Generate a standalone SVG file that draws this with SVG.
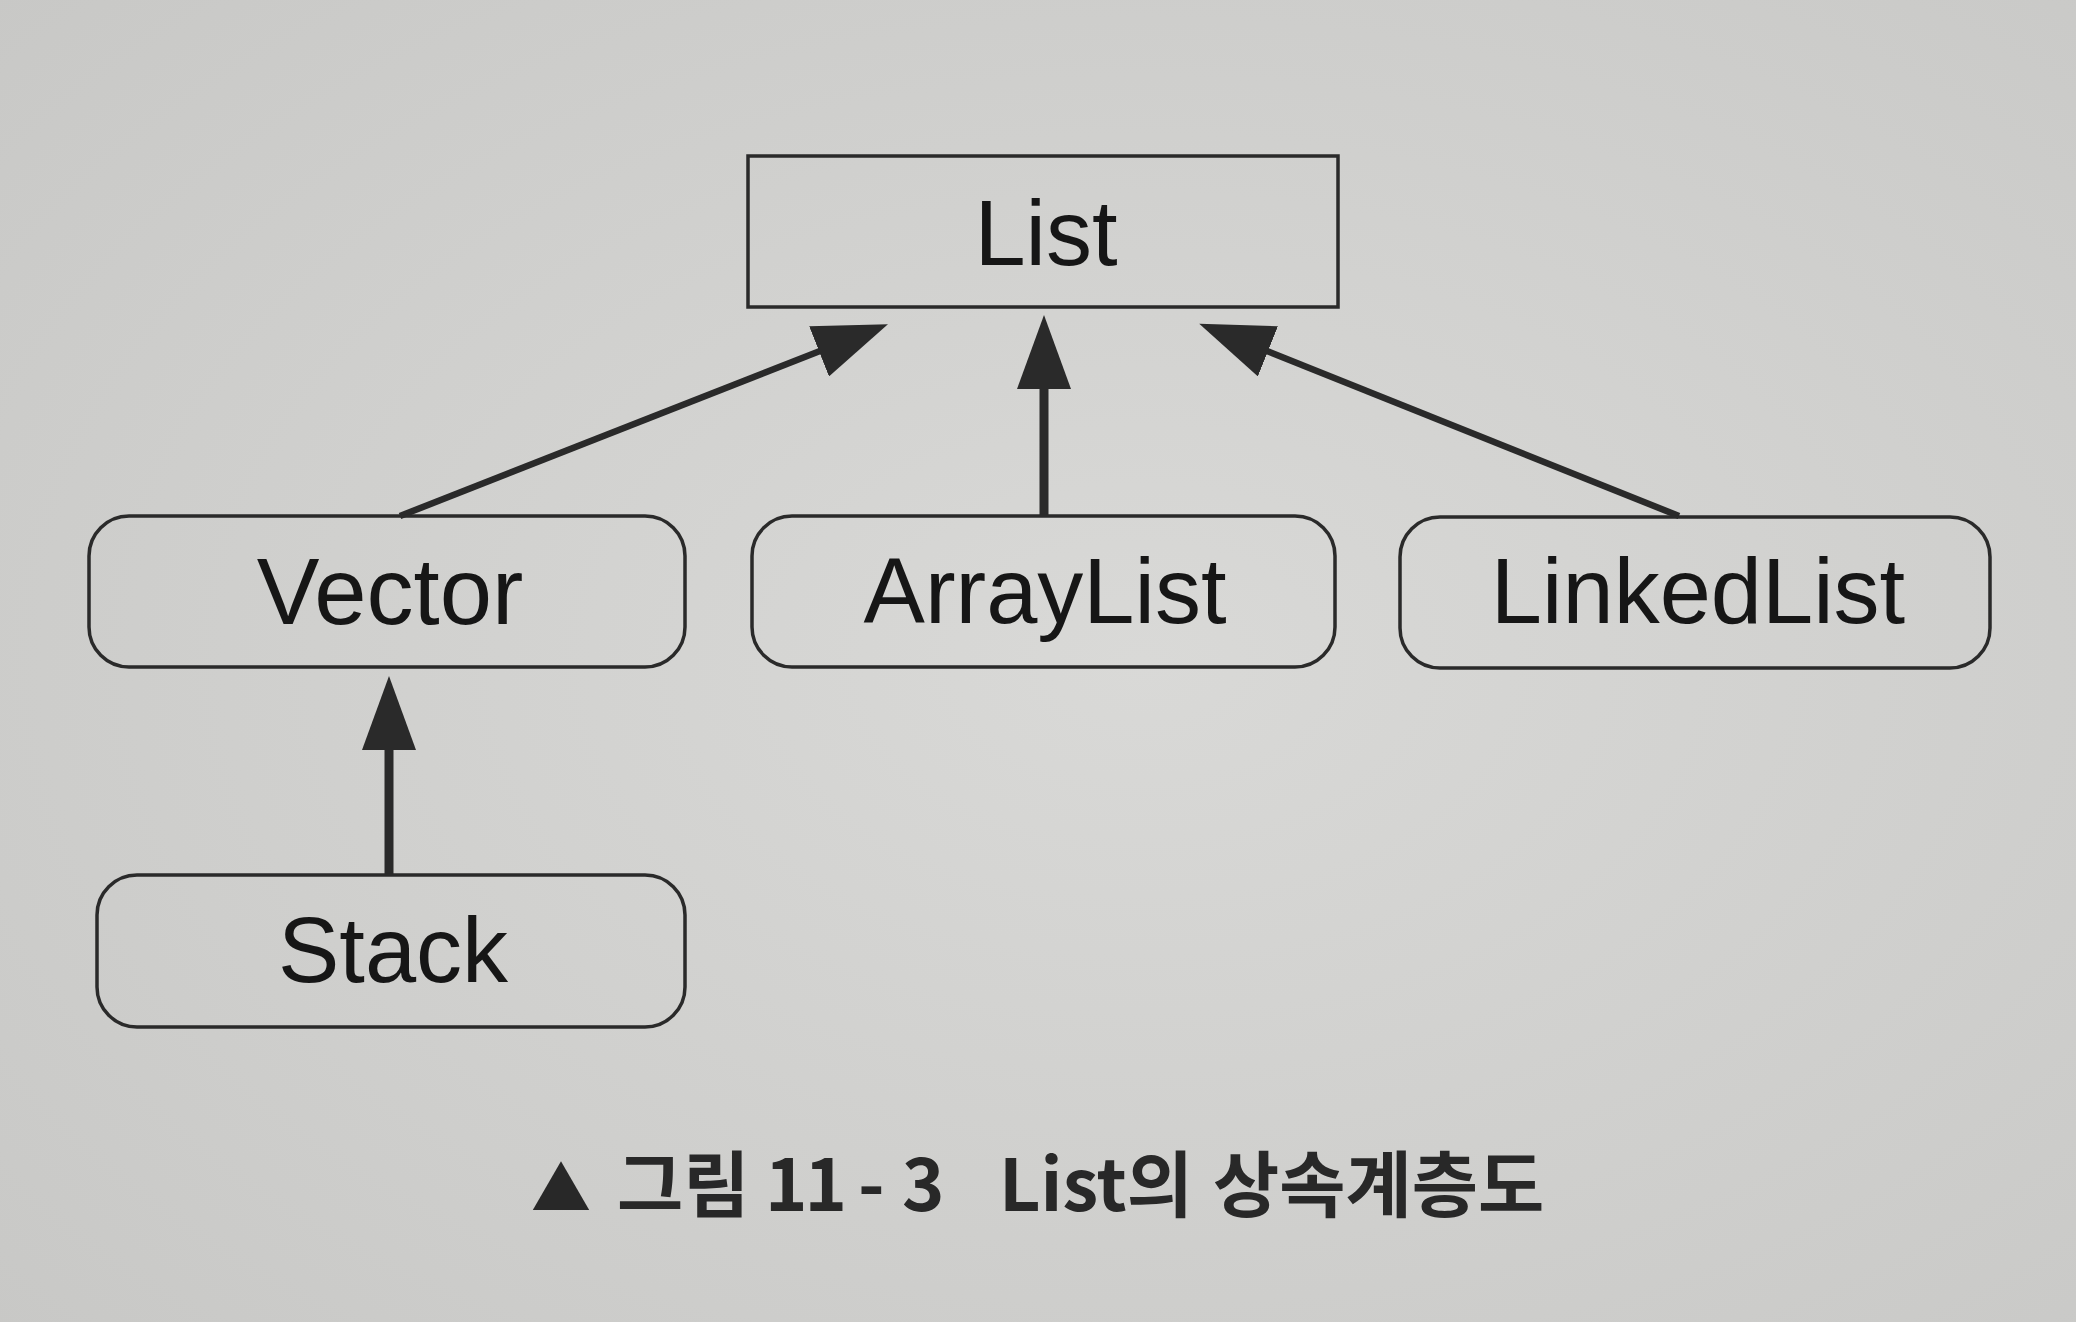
<svg xmlns="http://www.w3.org/2000/svg" width="2076" height="1322" viewBox="0 0 2076 1322">
  <style>
    .box { fill: none; stroke: #2a2a2a; stroke-width: 3.5; }
    .label { font-family: "Liberation Sans", Arial, sans-serif; font-size: 92px; fill: #161616; text-anchor: middle; }
    .edge { stroke: #2a2a2a; fill: none; stroke-linecap: butt; }
    .diag { stroke-width: 6.5; }
    .vert { stroke-width: 9; }
    .caption { font-family: "Noto Sans CJK KR", "Liberation Sans", sans-serif; font-size: 72px; font-weight: 700; fill: #282828; }
  </style>
  <defs>
    <radialGradient id="paper" cx="0.55" cy="0.5" r="0.75">
      <stop offset="0" stop-color="#d9d9d7"/>
      <stop offset="1" stop-color="#c8c8c6"/>
    </radialGradient>
    <marker id="arrow" viewBox="0 0 74 54" refX="1" refY="27" markerWidth="74" markerHeight="54" markerUnits="userSpaceOnUse" orient="auto">
      <path d="M0,0 L74,27 L0,54 z" fill="#2a2a2a"/>
    </marker>
  </defs>
  <rect x="0" y="0" width="2076" height="1322" fill="url(#paper)"/>

  <g id="connectors">
    <line class="edge diag" x1="400" y1="516" x2="820" y2="351" marker-end="url(#arrow)"/>
    <line class="edge vert" x1="1044" y1="516" x2="1044" y2="388" marker-end="url(#arrow)"/>
    <line class="edge diag" x1="1679" y1="516" x2="1267" y2="351" marker-end="url(#arrow)"/>
    <line class="edge vert" x1="389" y1="875" x2="389" y2="749" marker-end="url(#arrow)"/>
  </g>

  <g id="node-list">
    <rect class="box" x="748" y="156" width="590" height="151"/>
    <text class="label" x="1046" y="265">List</text>
  </g>
  <g id="node-vector">
    <rect class="box" x="89" y="516" width="596" height="151" rx="40" ry="40"/>
    <text class="label" x="390" y="624" style="font-size:94px">Vector</text>
  </g>
  <g id="node-arraylist">
    <rect class="box" x="752" y="516" width="583" height="151" rx="40" ry="40"/>
    <text class="label" x="1045" y="623">ArrayList</text>
  </g>
  <g id="node-linkedlist">
    <rect class="box" x="1400" y="517" width="590" height="151" rx="40" ry="40"/>
    <text class="label" x="1698" y="623">LinkedList</text>
  </g>
  <g id="node-stack">
    <rect class="box" x="97" y="875" width="588" height="152" rx="40" ry="40"/>
    <text class="label" x="393" y="982">Stack</text>
  </g>

  <g id="caption">
    <text class="caption" y="1211"><tspan x="531" style="font-size:60px">▲</tspan><tspan x="617">그림</tspan><tspan x="765" style="letter-spacing:-3px">11</tspan><tspan x="858">-</tspan><tspan x="902">3</tspan><tspan x="999">List의 </tspan><tspan x="1213">상속계층도</tspan></text>
  </g>
</svg>
